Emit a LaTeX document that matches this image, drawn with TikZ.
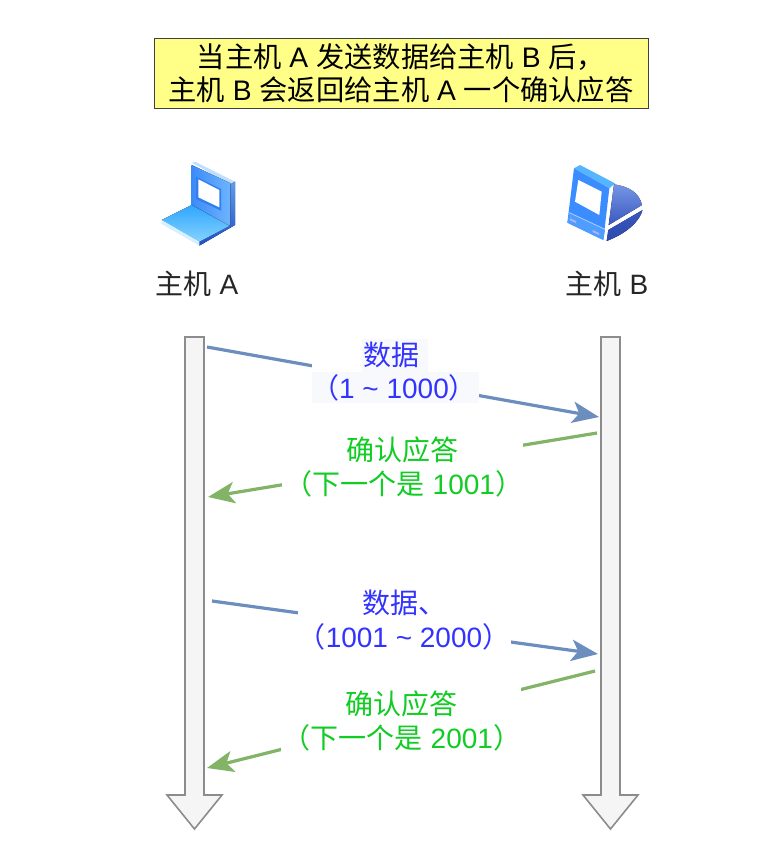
\documentclass[tikz,border=0pt]{standalone}
\usepackage{fontspec}
\setmainfont{Liberation Sans}
\newfontfamily\cjk{Noto Sans CJK SC}
\newcommand{\zh}[1]{{\cjk #1}}
\newcommand{\tld}{\symbol{126}}
\usetikzlibrary{arrows.meta}
\definecolor{flowblue}{HTML}{6C8EBF}
\definecolor{flowgreen}{HTML}{82B366}
\definecolor{txtblue}{HTML}{3333FF}
\definecolor{txtgreen}{HTML}{11CC22}
\definecolor{labelbg}{HTML}{F8F9FC}
\definecolor{notefill}{HTML}{FFFF88}
\definecolor{lapT}{HTML}{BFDFFF}
\definecolor{lapA}{HTML}{3D8BF8}
\definecolor{lapB}{HTML}{6DB4FF}
\definecolor{lapC}{HTML}{5E9BF0}
\definecolor{lapD}{HTML}{1F4FC8}
\definecolor{lapE}{HTML}{2FA6FF}
\definecolor{lapF}{HTML}{85D2FF}
\definecolor{lapG}{HTML}{D5F0FF}
\definecolor{lapH}{HTML}{2F7FF0}
\definecolor{deskA}{HTML}{55B5FF}
\definecolor{deskB}{HTML}{3B8CFF}
\definecolor{deskC}{HTML}{4F9DFF}
\definecolor{deskD}{HTML}{7596E6}
\definecolor{deskE}{HTML}{3A58BE}
\definecolor{deskF}{HTML}{2C48AE}
\tikzset{
 x=0.75pt,y=-0.75pt,
 titlebox/.style={draw=black!75,line width=0.7pt,fill=notefill,minimum width=370.5pt,minimum height=52.5pt,inner sep=0pt,align=center,font=\fontsize{21.2}{24.5}\selectfont},
 hostlabel/.style={font=\fontsize{21}{24}\selectfont,inner sep=0pt,text=black!85},
 lifeline/.style={draw=black!45,line width=1.2pt,fill=black!4,line join=miter},
 msgblue/.style={draw=flowblue,line width=2.4pt,-{Stealth[length=20pt,width=16pt,inset=5pt]}},
 msggreen/.style={draw=flowgreen,line width=2.4pt,-{Stealth[length=20pt,width=16pt,inset=5pt]}},
 lblblue/.style={text=txtblue,font=\fontsize{21}{25}\selectfont,align=center,inner sep=0pt},
 lblgreen/.style={text=txtgreen,font=\fontsize{21}{25}\selectfont,align=center,inner sep=0pt},
}
\begin{document}
\begin{tikzpicture}
\useasboundingbox (0,0) rectangle (783,843);
\fill[white] (0,0) rectangle (783,843);
% title
\node[titlebox] (title) at (401,73) {\zh{当主机} A \zh{发送数据给主机} B \zh{后，}\\ \zh{主机} B \zh{会返回给主机} A \zh{一个确认应答}};
% laptop icon
\begin{scope}[shift={(140,150)},x=0.25pt,y=-0.25pt,line join=round]
 \fill[lapT] (155,38) -- (167,36) -- (285,95) -- (272,103) -- cycle;
 \fill[left color=lapA,right color=lapB] (155,45) -- (272,100) -- (272,228) -- (155,165) -- cycle;
 \fill[top color=lapC,bottom color=lapD] (272,103) -- (285,95) -- (285,225) -- (178,287) -- (178,275) -- (272,225) -- cycle;
 \fill[top color=lapE,bottom color=lapF] (65,210) -- (155,165) -- (268,228) -- (178,275) -- cycle;
 \fill[lapG] (65,210) -- (178,275) -- (178,287) -- (65,222) -- cycle;
 \fill[lapH] (168,80) -- (243,117) -- (243,182) -- (168,147) -- cycle;
 \fill[white] (175,88) -- (238,120) -- (238,172) -- (175,142) -- cycle;
\end{scope}
% desktop icon
\begin{scope}[shift={(550,150)},x=0.25pt,y=-0.25pt,line join=round]
 \fill[deskA] (72,55) -- (90,45) -- (195,100) -- (178,115) -- cycle;
 \fill[deskB] (72,55) -- (178,115) -- (160,270) -- (52,218) -- cycle;
 \fill[deskC] (58,190) -- (165,240) -- (160,270) -- (52,218) -- cycle;
 \draw[white!60!deskB,line width=0.6pt] (58,188) -- (165,238);
 \fill[white] (85,90) -- (155,125) -- (148,195) -- (75,155) -- cycle;
 \fill[white!70!blue] (60,205) -- (78,213) -- (78,219) -- (60,211) -- cycle;
 \fill[white!70!blue] (128,240) -- (147,249) -- (147,255) -- (128,246) -- cycle;
 \fill[top color=deskD,bottom color=deskE] (192,103) .. controls (240,110) and (268,130) .. (276,165) -- (176,225) -- cycle;
 \fill[top color=deskE,bottom color=deskF] (175,240) -- (278,180) .. controls (268,215) and (230,250) .. (170,273) -- cycle;
\end{scope}
% hosts
\node[hostlabel] (hostA) at (197,284) {\zh{主机} A};
\node[hostlabel] (hostB) at (607,284) {\zh{主机} B};
% lifelines
\draw[lifeline] (185,337) -- (204,337) -- (204,795) -- (222,795) -- (194.5,829) -- (167,795) -- (185,795) -- cycle;
\draw[lifeline] (601,337) -- (620,337) -- (620,795) -- (638,795) -- (610.5,829) -- (583,795) -- (601,795) -- cycle;
\coordinate (a1) at (207,347); \coordinate (b1) at (599,417);
\coordinate (b2) at (597,433); \coordinate (a2) at (208,497);
\coordinate (a3) at (212,601); \coordinate (b3) at (598,654);
\coordinate (b4) at (595,671); \coordinate (a4) at (207,768);
\draw[msgblue] (a1) -- (b1);
\draw[msggreen] (b2) -- (a2);
\draw[msgblue] (a3) -- (b3);
\draw[msggreen] (b4) -- (a4);
% masks
\fill[white] (312,339) rectangle (362,372);
\fill[labelbg] (362,339) rectangle (428,372);
\fill[labelbg] (312,372) rectangle (479,403);
\fill[white] (282,432) rectangle (523,505);
\fill[white] (298,585) rectangle (511,655);
\fill[white] (281,687) rectangle (521,760);
% labels
\node[lblblue] (m1a) at (391,355) {\zh{数据}};
\node[lblblue] (m1b) at (394,388) {\zh{（}1 \tld{} 1000\zh{）}};
\node[lblgreen] (m2a) at (402,450) {\zh{确认应答}};
\node[lblgreen] (m2b) at (404,484) {\zh{（下一个是} 1001\zh{）}};
\node[lblblue] (m3a) at (404,603) {\zh{数据、}};
\node[lblblue] (m3b) at (404,637) {\zh{（}1001 \tld{} 2000\zh{）}};
\node[lblgreen] (m4a) at (401,704) {\zh{确认应答}};
\node[lblgreen] (m4b) at (402,738) {\zh{（下一个是} 2001\zh{）}};
\end{tikzpicture}
\end{document}
